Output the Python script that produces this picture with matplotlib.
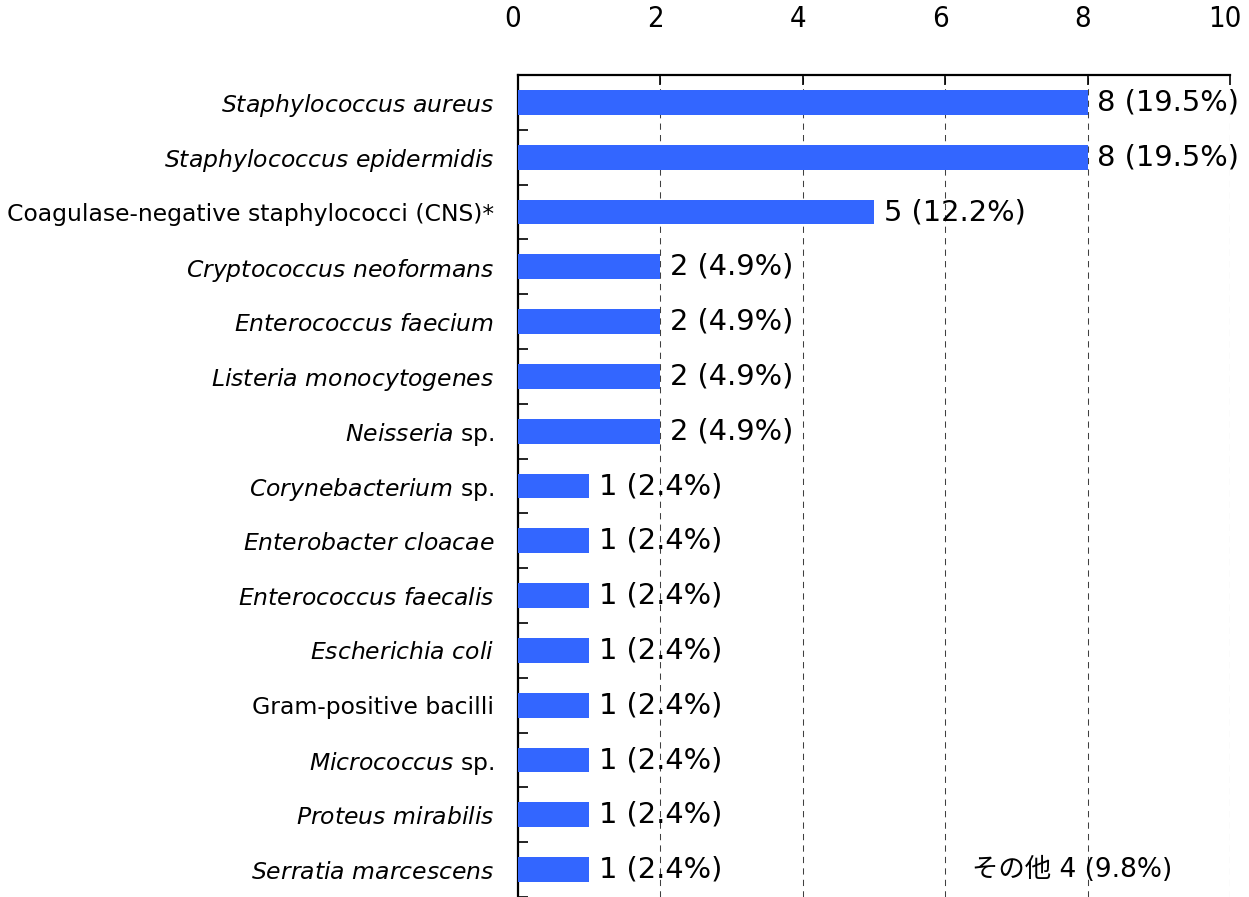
import matplotlib
matplotlib.use("Agg")
import matplotlib.pyplot as plt
import matplotlib.transforms as mtransforms
import numpy as np

# data, top to bottom
labels = [
    r"$\mathit{Staphylococcus\ aureus}$",
    r"$\mathit{Staphylococcus\ epidermidis}$",
    "Coagulase-negative staphylococci (CNS)*",
    r"$\mathit{Cryptococcus\ neoformans}$",
    r"$\mathit{Enterococcus\ faecium}$",
    r"$\mathit{Listeria\ monocytogenes}$",
    r"$\mathit{Neisseria}$ sp.",
    r"$\mathit{Corynebacterium}$ sp.",
    r"$\mathit{Enterobacter\ cloacae}$",
    r"$\mathit{Enterococcus\ faecalis}$",
    r"$\mathit{Escherichia\ coli}$",
    "Gram-positive bacilli",
    r"$\mathit{Micrococcus}$ sp.",
    r"$\mathit{Proteus\ mirabilis}$",
    r"$\mathit{Serratia\ marcescens}$",
]
counts = [8, 8, 5, 2, 2, 2, 2, 1, 1, 1, 1, 1, 1, 1, 1]
percents = [19.5, 19.5, 12.2, 4.9, 4.9, 4.9, 4.9, 2.4, 2.4, 2.4, 2.4, 2.4, 2.4, 2.4, 2.4]
other_count = 4
other_pct = 9.8
xticks = [0, 2, 4, 6, 8, 10]

plt.rcParams['mathtext.fontset'] = 'dejavusans'

fig = plt.figure(figsize=(12.49, 8.97), dpi=100)
ax = fig.add_axes([518 / 1249, 0.0, 712 / 1249, 822 / 897])

y = np.arange(len(labels))
ax.barh(y, counts, height=0.45, color='#3366ff', zorder=3)

for yi, c, p in zip(y, counts, percents):
    ax.annotate(f"{c} ({p}%)", (c, yi), xytext=(7, 0), textcoords='offset points',
                ha='left', va='center', fontsize=20.8, color='black', zorder=4,
                family='DejaVu Sans')

ax.text(7.78, y[-1], f"その他 {other_count} ({other_pct}%)", ha='center', va='center',
        fontsize=19, color='black', family=['DejaVu Sans', 'Noto Sans CJK JP'])

ax.set_xlim(0, 10)
ax.set_ylim(len(labels) - 0.5, -0.5)

ax.xaxis.tick_top()
ax.set_xticks(xticks)
ax.set_xticklabels([str(t) for t in xticks], fontsize=21, fontstretch='condensed')
ax.tick_params(axis='x', direction='in', length=7, width=1.2, pad=30, colors='black')
off = mtransforms.ScaledTranslation(-5 / 100, 0, fig.dpi_scale_trans)
for lab in ax.get_xticklabels():
    lab.set_transform(lab.get_transform() + off)

ax.set_yticks(y)
ax.set_yticklabels(labels, fontsize=16.9)
ax.set_yticks(np.arange(len(labels)) + 0.5, minor=True)
ax.tick_params(axis='y', which='major', length=0, pad=17)
ax.tick_params(axis='y', which='minor', direction='in', length=7, width=1.2)

for xv in xticks[1:]:
    ax.axvline(xv, color='#404040', lw=0.75, ls=(0, (6, 5)), zorder=1)

for s in ['right', 'bottom']:
    ax.spines[s].set_visible(False)
for s in ['top', 'left']:
    ax.spines[s].set_linewidth(1.6)
    ax.spines[s].set_color('black')

fig.savefig('out.png', dpi=100)
